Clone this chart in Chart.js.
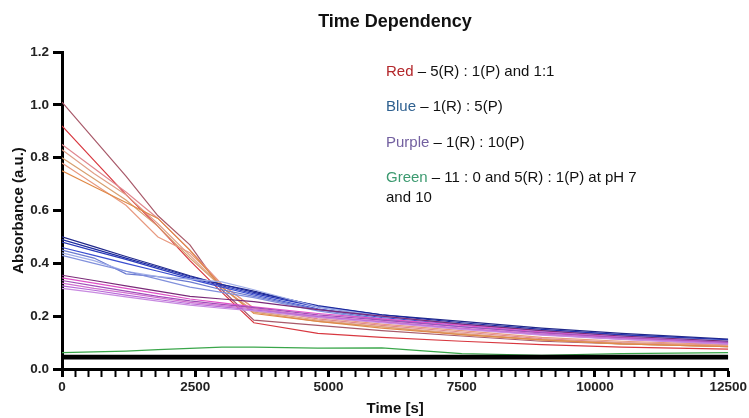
<!DOCTYPE html>
<html>
<head>
<meta charset="utf-8">
<script src="https://cdn.jsdelivr.net/npm/chart.js@4.4.1/dist/chart.umd.min.js"></script>
<style>
  html, body { margin: 0; padding: 0; background: #fff; }
  #wrap { width: 749px; height: 418px; }
</style>
</head>
<body>
<div id="wrap"><canvas id="chart" width="749" height="418"></canvas></div>
<script>
// sample times (s)
const times = [0, 600, 1200, 1800, 2400, 3000, 3600, 4800, 6000, 7500, 9000, 10500, 12500];

// red group: 5(R):1(P) and 1:1
const red1 = [1.01, 0.87, 0.73, 0.58, 0.47, 0.30, 0.185, 0.165, 0.145, 0.125, 0.105, 0.095, 0.085];
const red2 = [0.92, 0.79, 0.66, 0.54, 0.41, 0.29, 0.175, 0.135, 0.12, 0.105, 0.092, 0.083, 0.075];
const red3 = [0.85, 0.76, 0.67, 0.57, 0.45, 0.32, 0.23, 0.19, 0.165, 0.14, 0.115, 0.10, 0.09];
const red4 = [0.83, 0.74, 0.66, 0.55, 0.43, 0.31, 0.22, 0.185, 0.16, 0.135, 0.11, 0.098, 0.088];
const red5 = [0.80, 0.72, 0.64, 0.54, 0.42, 0.31, 0.215, 0.18, 0.16, 0.13, 0.11, 0.095, 0.085];
const red6 = [0.78, 0.70, 0.62, 0.50, 0.44, 0.32, 0.23, 0.195, 0.17, 0.145, 0.12, 0.105, 0.092];
const red7 = [0.75, 0.69, 0.63, 0.57, 0.45, 0.31, 0.21, 0.18, 0.155, 0.13, 0.11, 0.095, 0.085];

// blue group: 1(R):5(P)
const blue1 = [0.50, 0.463, 0.426, 0.39, 0.353, 0.32, 0.295, 0.237, 0.205, 0.18, 0.155, 0.135, 0.113];
const blue2 = [0.49, 0.455, 0.42, 0.385, 0.35, 0.32, 0.29, 0.24, 0.205, 0.175, 0.15, 0.13, 0.11];
const blue3 = [0.48, 0.447, 0.415, 0.38, 0.345, 0.315, 0.285, 0.235, 0.20, 0.17, 0.147, 0.128, 0.108];
const blue4 = [0.46, 0.43, 0.40, 0.37, 0.34, 0.31, 0.28, 0.228, 0.195, 0.168, 0.145, 0.125, 0.105];
const blue5 = [0.45, 0.42, 0.36, 0.35, 0.33, 0.30, 0.275, 0.225, 0.19, 0.16, 0.14, 0.12, 0.102];
const blue6 = [0.44, 0.41, 0.37, 0.35, 0.34, 0.33, 0.30, 0.235, 0.20, 0.17, 0.145, 0.125, 0.107];
const blue7 = [0.43, 0.40, 0.37, 0.34, 0.31, 0.29, 0.27, 0.22, 0.185, 0.16, 0.138, 0.12, 0.10];

// purple group: 1(R):10(P)
const purple1 = [0.355, 0.335, 0.315, 0.295, 0.275, 0.265, 0.255, 0.225, 0.20, 0.17, 0.145, 0.125, 0.105];
const purple2 = [0.345, 0.325, 0.305, 0.285, 0.265, 0.25, 0.235, 0.21, 0.19, 0.165, 0.14, 0.12, 0.10];
const purple3 = [0.335, 0.315, 0.295, 0.275, 0.258, 0.245, 0.232, 0.205, 0.185, 0.16, 0.137, 0.118, 0.10];
const purple4 = [0.325, 0.305, 0.288, 0.27, 0.252, 0.24, 0.228, 0.20, 0.18, 0.155, 0.133, 0.115, 0.097];
const purple5 = [0.315, 0.298, 0.28, 0.263, 0.247, 0.235, 0.224, 0.198, 0.178, 0.152, 0.13, 0.113, 0.095];
const purple6 = [0.305, 0.29, 0.273, 0.257, 0.242, 0.23, 0.22, 0.195, 0.175, 0.15, 0.128, 0.112, 0.094];

// green: 11:0 and 5(R):1(P) at pH 7 and 10
const green1 = [0.062, 0.065, 0.068, 0.073, 0.078, 0.083, 0.083, 0.079, 0.08, 0.058, 0.052, 0.058, 0.062];

// black baseline traces
const black1 = [0.040, 0.040, 0.040, 0.040, 0.040, 0.040, 0.040, 0.040, 0.040, 0.040, 0.040, 0.040, 0.040];
const black2 = [0.045, 0.045, 0.045, 0.045, 0.045, 0.045, 0.045, 0.045, 0.045, 0.045, 0.045, 0.045, 0.045];
const black3 = [0.050, 0.050, 0.050, 0.050, 0.050, 0.050, 0.050, 0.050, 0.050, 0.050, 0.050, 0.050, 0.050];

const yTicks = [0, 0.2, 0.4, 0.6, 0.8, 1.0, 1.2];
const xTicks = [0, 2500, 5000, 7500, 10000, 12500];

const FONT = '"Liberation Sans", Arial, Helvetica, sans-serif';

function series(values, color, width) {
    return {
        data: values.map((v, i) => ({ x: times[i], y: v })),
        borderColor: color,
        borderWidth: width || 1.2,
        pointRadius: 0,
        tension: 0,
        fill: false
    };
}

const datasets = [
    series(black1, '#000', 2.2),
    series(black2, '#000', 2.2),
    series(black3, '#000', 2.2),
    series(green1, '#3aa64a'),
    series(purple6, '#c88ae0'),
    series(purple5, '#b86ad8'),
    series(purple4, '#d070d0'),
    series(purple3, '#a050b8'),
    series(purple2, '#e050c8'),
    series(purple1, '#7a2a78'),
    series(blue7, '#8090dc'),
    series(blue6, '#a0aee8'),
    series(blue5, '#6a7ad0'),
    series(blue4, '#3a4ed0'),
    series(blue3, '#2a3ab8'),
    series(blue2, '#1c2aa0'),
    series(blue1, '#20288a'),
    series(red7, '#e08a48'),
    series(red6, '#e89a80'),
    series(red5, '#d8a070'),
    series(red4, '#e0a088'),
    series(red3, '#e08890'),
    series(red2, '#d83840'),
    series(red1, '#a85a6a')
];

// title and the free text notes
const annotations = {
    id: 'annotations',
    afterDraw(chart) {
        const ctx = chart.ctx;
        ctx.save();
        ctx.fillStyle = '#111';
        ctx.font = 'bold 18px ' + FONT;
        ctx.textAlign = 'center';
        ctx.textBaseline = 'middle';
        ctx.fillText('Time Dependency', 395, 22);

        const notes = [
            ['Red', '#b3262a', ' \u2013 5(R) : 1(P) and 1:1', 72],
            ['Blue', '#2e6090', ' \u2013 1(R) : 5(P)', 107],
            ['Purple', '#7360a0', ' \u2013 1(R) : 10(P)', 143],
            ['Green', '#3c9a70', ' \u2013 11 : 0 and 5(R) : 1(P) at pH 7', 178],
            ['', '#111', 'and 10', 198]
        ];
        ctx.font = '15px ' + FONT;
        ctx.textAlign = 'left';
        notes.forEach(([word, color, rest, y]) => {
            let x = 386;
            ctx.fillStyle = color;
            ctx.fillText(word, x, y);
            x += ctx.measureText(word).width;
            ctx.fillStyle = '#111';
            ctx.fillText(rest, x, y);
        });
        ctx.restore();
    }
};

new Chart(document.getElementById('chart'), {
    type: 'line',
    data: { datasets: datasets },
    plugins: [annotations],
    options: {
        responsive: false,
        animation: false,
        layout: { padding: { left: 0, top: 52, right: 20, bottom: 0 } },
        plugins: { legend: { display: false }, tooltip: { enabled: false }, title: { display: false } },
        scales: {
            x: {
                type: 'linear',
                min: 0,
                max: 12500,
                afterFit: (s) => { s.height = 49; },
                afterBuildTicks: (s) => {
                    const t = [];
                    for (let v = 0; v <= 12500; v += 250) t.push({ value: v });
                    s.ticks = t;
                },
                border: { color: '#000', width: 3 },
                grid: {
                    drawOnChartArea: false,
                    tickLength: 8,
                    tickColor: '#000',
                    tickWidth: (c) => (xTicks.includes(c.tick.value) ? 3 : 2)
                },
                ticks: {
                    autoSkip: false,
                    maxRotation: 0,
                    padding: 2,
                    color: '#222',
                    font: { family: FONT, size: 13.5, weight: 'bold' },
                    callback: (v) => (xTicks.includes(v) ? String(v) : '')
                },
                title: {
                    display: true,
                    text: 'Time [s]',
                    color: '#111',
                    padding: { top: 2, bottom: 0 },
                    font: { family: FONT, size: 15, weight: 'bold' }
                }
            },
            y: {
                min: 0,
                max: 1.2,
                afterFit: (s) => { s.width = 62; },
                afterBuildTicks: (s) => { s.ticks = yTicks.map((v) => ({ value: v })); },
                border: { color: '#000', width: 3 },
                grid: { drawOnChartArea: false, tickLength: 9, tickColor: '#000', tickWidth: 3 },
                ticks: {
                    padding: 4,
                    color: '#222',
                    font: { family: FONT, size: 13.5, weight: 'bold' },
                    callback: (v) => Number(v).toFixed(1)
                },
                title: {
                    display: true,
                    text: 'Absorbance (a.u.)',
                    color: '#111',
                    padding: { top: 10, bottom: 2 },
                    font: { family: FONT, size: 15, weight: 'bold' }
                }
            }
        }
    }
});
</script>
</body>
</html>
